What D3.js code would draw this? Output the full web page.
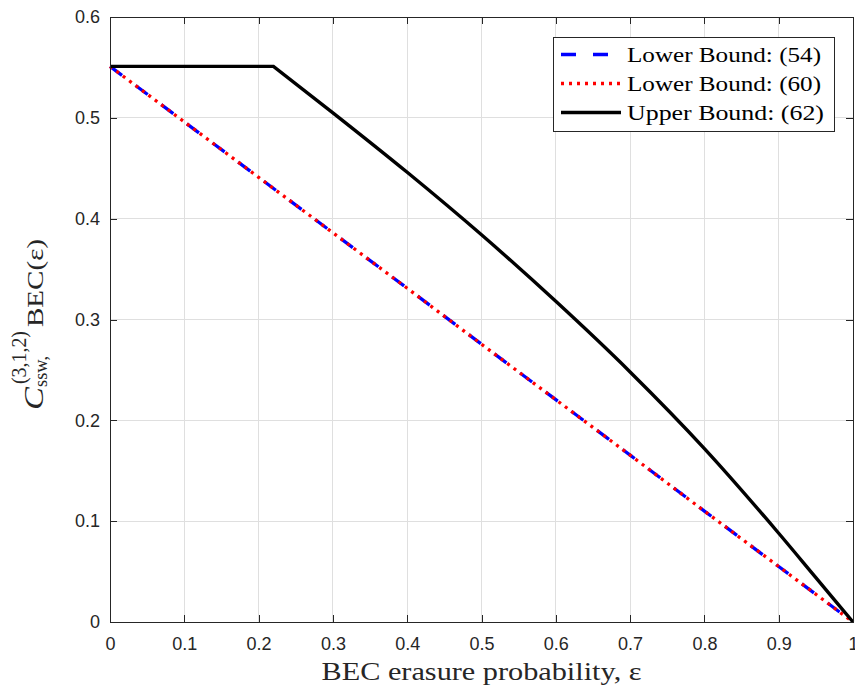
<!DOCTYPE html>
<html>
<head>
<meta charset="utf-8">
<script src="https://cdn.jsdelivr.net/npm/d3@7"></script>
<style>
  html, body { margin: 0; padding: 0; background: #fff; }
  svg { display: block; }
</style>
</head>
<body>
<svg id="chart" width="855" height="686"></svg>
<script>
// ---- data ----
const lowerEps = [0, 0.1, 0.2, 0.3, 0.4, 0.5, 0.6, 0.7, 0.8, 0.9, 1];
const lower54 = [0.551, 0.496, 0.441, 0.386, 0.331, 0.2755, 0.2205, 0.1655, 0.11, 0.055, 0];
const lower60 = [0.551, 0.496, 0.441, 0.386, 0.331, 0.2755, 0.2205, 0.1655, 0.11, 0.055, 0];
const upperEps = [0, 0.22, 0.3, 0.4, 0.5, 0.6, 0.7, 0.8, 0.9, 0.95, 1];
const upper62 = [0.551, 0.551, 0.505, 0.446, 0.384, 0.318, 0.248, 0.172, 0.088, 0.044, 0];
const xTicks = [0, 0.1, 0.2, 0.3, 0.4, 0.5, 0.6, 0.7, 0.8, 0.9, 1];
const yTicks = [0, 0.1, 0.2, 0.3, 0.4, 0.5, 0.6];
const xTickLabels = ["0", "0.1", "0.2", "0.3", "0.4", "0.5", "0.6", "0.7", "0.8", "0.9", "1"];
const yTickLabels = ["0", "0.1", "0.2", "0.3", "0.4", "0.5", "0.6"];
const legendLabels = ["Lower Bound: (54)", "Lower Bound: (60)", "Upper Bound: (62)"];
const xLabel = "BEC erasure probability, \u03B5";

// ---- layout ----
const L = 110, R = 853, T = 17, B = 622;
const axisColor = "#262626";
const svg = d3.select("#chart");
const x = d3.scaleLinear().domain([0, 1]).range([L, R]);
const y = d3.scaleLinear().domain([0, 0.6]).range([B, T]);

// grid
const grid = svg.append("g");
grid.selectAll("line.gx").data(xTicks.slice(1, -1)).enter().append("line")
  .attr("x1", d => x(d)).attr("x2", d => x(d)).attr("y1", T).attr("y2", B)
  .attr("stroke", "#dfdfdf").attr("stroke-width", 1).attr("shape-rendering", "crispEdges");
grid.selectAll("line.gy").data(yTicks.slice(1, -1)).enter().append("line")
  .attr("x1", L).attr("x2", R).attr("y1", d => y(d)).attr("y2", d => y(d))
  .attr("stroke", "#dfdfdf").attr("stroke-width", 1).attr("shape-rendering", "crispEdges");

// lines
const plotArea = svg.append("g");
const lineLow = d3.line().x((d, i) => x(lowerEps[i])).y(d => y(d));
plotArea.append("path").datum(lower54).attr("d", lineLow)
  .attr("fill", "none").attr("stroke", "#0000ff").attr("stroke-width", 3.3)
  .attr("stroke-dasharray", "15,17");
plotArea.append("path").datum(lower60).attr("d", lineLow)
  .attr("fill", "none").attr("stroke", "#ff0000").attr("stroke-width", 3.3)
  .attr("stroke-dasharray", "3,5");

// upper bound: flat part straight, descending part smooth, one path with a sharp corner
const upPts = upper62.map((v, i) => [upperEps[i], v]);
const curvePart = d3.line().x(d => x(d[0])).y(d => y(d[1])).curve(d3.curveMonotoneX)(upPts.slice(1));
const upperD = `M${x(upPts[0][0])},${y(upPts[0][1])}L` + curvePart.slice(1);
plotArea.append("path").attr("d", upperD)
  .attr("fill", "none").attr("stroke", "#000").attr("stroke-width", 3.4)
  .attr("stroke-linejoin", "miter");

// axes
function styleAxis(g) {
  g.select(".domain").attr("stroke", axisColor).attr("stroke-width", 1);
  g.selectAll(".tick line").attr("stroke", axisColor).attr("stroke-width", 1);
  g.selectAll(".tick text").attr("fill", axisColor)
    .style("font-family", "'Liberation Sans', Arial, sans-serif").style("font-size", "18px");
  g.attr("shape-rendering", "crispEdges");
}
svg.append("g").attr("transform", `translate(0,${B})`)
  .call(d3.axisBottom(x).tickValues(xTicks).tickFormat((d, i) => xTickLabels[i])
    .tickSizeInner(-7).tickSizeOuter(0).tickPadding(15))
  .call(styleAxis);
svg.append("g").attr("transform", `translate(${L},0)`)
  .call(d3.axisLeft(y).tickValues(yTicks).tickFormat((d, i) => yTickLabels[i])
    .tickSizeInner(-7).tickSizeOuter(0).tickPadding(10))
  .call(styleAxis);
svg.append("g").attr("transform", `translate(0,${T})`)
  .call(d3.axisTop(x).tickValues(xTicks).tickFormat("").tickSizeInner(-7).tickSizeOuter(0))
  .call(styleAxis);
svg.append("g").attr("transform", `translate(${R},0)`)
  .call(d3.axisRight(y).tickValues(yTicks).tickFormat("").tickSizeInner(-7).tickSizeOuter(0))
  .call(styleAxis);

// x label
svg.append("text").attr("x", (L + R) / 2).attr("y", 680)
  .attr("text-anchor", "middle")
  .attr("textLength", 320).attr("lengthAdjust", "spacingAndGlyphs")
  .style("font-family", "'Liberation Serif', 'Times New Roman', serif")
  .style("font-size", "26px").attr("fill", "#262626")
  .text(xLabel);

// y label (rotated, with super/subscripts)
const yl = svg.append("g").attr("transform", "translate(43,410) rotate(-90)")
  .style("font-family", "'Liberation Serif', 'Times New Roman', serif").attr("fill", "#262626");
yl.append("text").attr("x", 0).attr("y", 0).style("font-size", "28px").style("font-style", "italic")
  .attr("textLength", 23).attr("lengthAdjust", "spacingAndGlyphs").text("C");
yl.append("text").attr("x", 26).attr("y", -17).style("font-size", "20px")
  .attr("textLength", 53).attr("lengthAdjust", "spacingAndGlyphs").text("(3,1,2)");
yl.append("text").attr("x", 23).attr("y", 4).style("font-size", "18px")
  .attr("textLength", 31).attr("lengthAdjust", "spacingAndGlyphs").text("ssw,");
yl.append("text").attr("x", 83).attr("y", 0).style("font-size", "23px")
  .attr("textLength", 88).attr("lengthAdjust", "spacingAndGlyphs").text("BEC(\u03B5)");

// legend
const lg = svg.append("g");
lg.append("rect").attr("x", 553.5).attr("y", 37.5).attr("width", 281).attr("height", 94)
  .attr("fill", "#fff").attr("stroke", axisColor).attr("stroke-width", 1);
const legendStyles = [
  { color: "#0000ff", dash: "15,17", w: 3.3 },
  { color: "#ff0000", dash: "3,5", w: 3.3 },
  { color: "#000", dash: null, w: 3.4 }
];
const rowY = [54.5, 83.5, 112.5];
legendLabels.forEach((lab, i) => {
  const st = legendStyles[i];
  lg.append("line").attr("x1", 561).attr("x2", 621).attr("y1", rowY[i]).attr("y2", rowY[i])
    .attr("stroke", st.color).attr("stroke-width", st.w)
    .attr("stroke-dasharray", st.dash);
  lg.append("text").attr("x", 627).attr("y", rowY[i] + 7)
    .attr("textLength", i === 2 ? 197 : 194).attr("lengthAdjust", "spacingAndGlyphs")
    .style("font-family", "'Liberation Serif', 'Times New Roman', serif")
    .style("font-size", "21px").attr("fill", "#000")
    .text(lab);
});
</script>
</body>
</html>
